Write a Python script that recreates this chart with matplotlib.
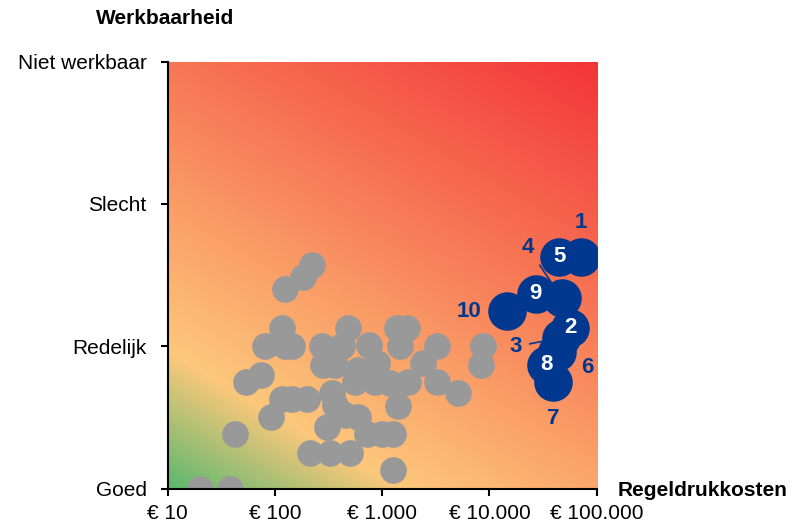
import numpy as np
import matplotlib
matplotlib.use("Agg")
import matplotlib.pyplot as plt
from matplotlib.colors import LinearSegmentedColormap

plt.rcParams['font.family'] = ['Liberation Sans', 'DejaVu Sans']

# ===============================
# Data
# ===============================
x_ticks = [10, 100, 1000, 10000, 100000]
x_ticklabels = ['€ 10', '€ 100', '€ 1.000', '€ 10.000', '€ 100.000']
y_ticks = [0, 1, 2, 3]
y_ticklabels = ['Goed', 'Redelijk', 'Slecht', 'Niet werkbaar']

# overige regelingen (grijs)
gray_cost = [221, 184, 124, 117, 81, 124, 144, 484, 274, 420,
             755, 1370, 1700, 1470, 3270, 8770, 8350, 283, 364, 600,
             890, 2420, 54, 75, 560, 860, 1750, 3230, 5130, 340,
             116, 144, 198, 364, 1190, 1420, 93, 450, 600, 305,
             43, 720, 990, 1270, 213, 327, 500, 1270, 20, 38]
gray_werk = [1.57, 1.49, 1.40, 1.13, 1.0, 1.0, 1.0, 1.13, 1.0, 1.0,
             1.01, 1.13, 1.13, 1.0, 1.0, 1.0, 0.87, 0.87, 0.87, 0.83,
             0.88, 0.88, 0.75, 0.80, 0.75, 0.75, 0.75, 0.75, 0.67, 0.67,
             0.63, 0.63, 0.63, 0.59, 0.74, 0.58, 0.50, 0.52, 0.50, 0.43,
             0.38, 0.38, 0.38, 0.38, 0.25, 0.25, 0.25, 0.13, 0.0, 0.0]

# top 10 (blauw)
top_labels = ['1', '2', '3', '4', '5', '6', '7', '8', '9', '10']
top_cost = [71000, 56400, 46500, 47200, 44600, 42700, 39400, 33700, 27000, 14500]
top_werk = [1.63, 1.13, 1.06, 1.34, 1.63, 0.96, 0.75, 0.87, 1.37, 1.25]

# positie van de nummers (offset in punten), True = met lijntje
label_pos = {
    '1': (0, 24.5, False), '2': (0, 0, False), '3': (-33, -6.5, True),
    '4': (-24.5, 36.4, True), '5': (0, 0, False), '6': (22, -11.3, False),
    '7': (0, -26.4, False), '8': (0, 0, False), '9': (0, 0, False),
    '10': (-27, -0.5, False),
}

blue = '#00388f'
gray = '#999999'

# ===============================
# Figuur
# ===============================
fig = plt.figure(figsize=(8.01, 5.24), dpi=100)
ax = fig.add_axes([167.5 / 801, 1 - 488.5 / 524, 429.2 / 801, 426.8 / 524])

# achtergrond: verloop groen -> geel -> oranje -> rood
cmap = LinearSegmentedColormap.from_list(
    'werk', [(0.0, '#5cb86f'), (0.2, '#fdc87b'), (0.55, '#f8855c'), (1.0, '#f33538')])
gx, gy = np.meshgrid(np.linspace(0, 1, 300), np.linspace(0, 1, 300))
grad = 0.37 * gx + 0.63 * gy
ax.imshow(grad, cmap=cmap, extent=(0, 1, 0, 1), origin='lower',
          transform=ax.transAxes, aspect='auto', zorder=0, interpolation='bilinear')

ax.set_xscale('log')
ax.scatter(gray_cost, gray_werk, s=370, color=gray, linewidths=0, zorder=2)
ax.scatter(top_cost, top_werk, s=770, color=blue, linewidths=0, zorder=3)

for lab, cx, cy in zip(top_labels, top_cost, top_werk):
    dx, dy, line = label_pos[lab]
    inside = (dx == 0 and dy == 0)
    kw = {}
    if line:
        kw['arrowprops'] = dict(arrowstyle='-', color=blue, lw=1.2,
                                shrinkA=4, shrinkB=0)
    ax.annotate(lab, (cx, cy), xytext=(dx, dy), textcoords='offset points',
                ha='center', va='center', fontsize=16, fontweight='bold',
                color='white' if inside else blue, zorder=4, **kw)

ax.set_xlim(10, 100000)
ax.set_ylim(0, 3)
ax.set_xticks(x_ticks)
ax.set_xticklabels(x_ticklabels)
ax.minorticks_off()
ax.set_yticks(y_ticks)
ax.set_yticklabels(y_ticklabels)
ax.tick_params(axis='both', labelsize=15, length=5, width=1.5, direction='out')
ax.tick_params(axis='x', pad=6)
ax.tick_params(axis='y', pad=10)

for side in ['top', 'right']:
    ax.spines[side].set_visible(False)
for side in ['left', 'bottom']:
    ax.spines[side].set_linewidth(1.5)
    ax.spines[side].set_zorder(5)

fig.text(165 / 801, 1 - 18 / 524, 'Werkbaarheid', ha='center', va='center',
         fontsize=15, fontweight='bold')
fig.text(618 / 801, 1 - 490 / 524, 'Regeldrukkosten', ha='left', va='center',
         fontsize=15, fontweight='bold')

fig.savefig('out.png', dpi=100)
